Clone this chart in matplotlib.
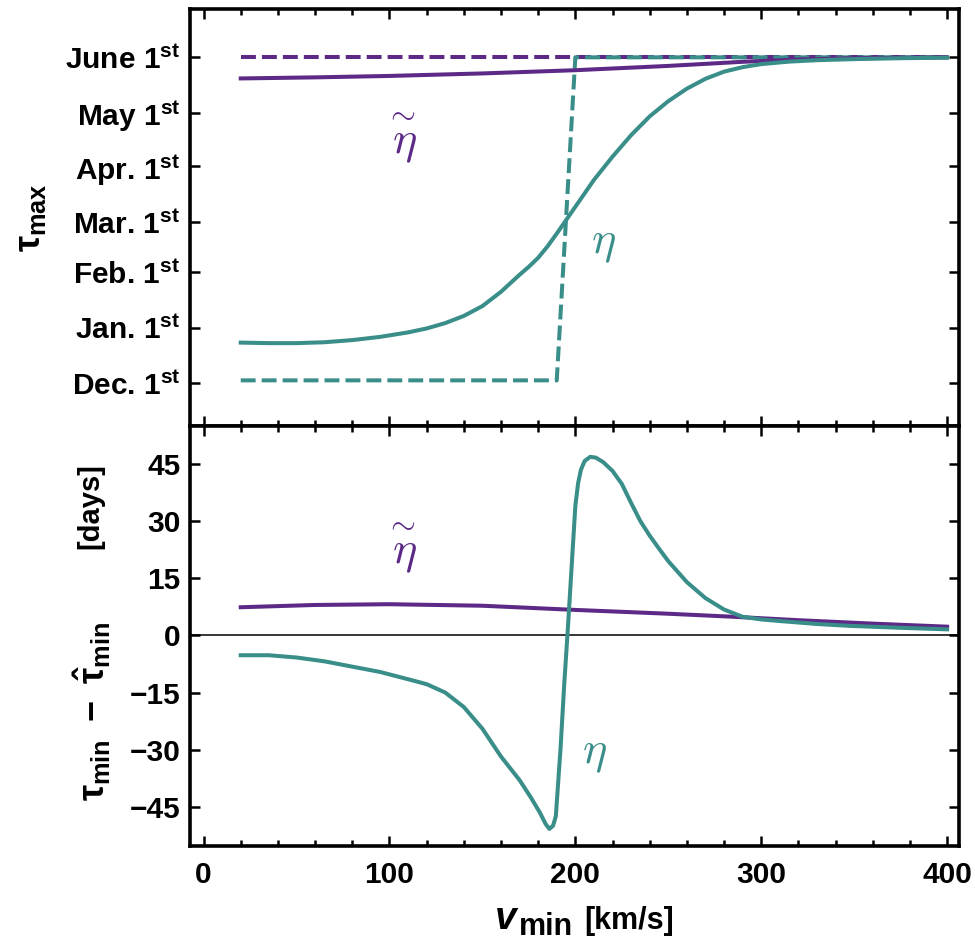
#!/usr/bin/env python3
# coding: utf-8

import matplotlib
matplotlib.use('Agg')
from matplotlib import pyplot as plt
from matplotlib.ticker import MultipleLocator, FixedLocator


PURPLE = '#5c2a86'
TEAL = '#3a8e8a'

W, H = 975, 941

# tau_max, days counted from Dec. 1st
MONTH_DAYS = [0, 31, 62, 90, 121, 151, 182]
MONTH_NAMES = ['Dec.', 'Jan.', 'Feb.', 'Mar.', 'Apr.', 'May', 'June']

v_eta_max = [20, 35, 50, 65, 80, 95, 110, 120, 130, 140, 150, 160, 170, 175, 180, 185, 190, 200,
             210, 220, 230, 240, 250, 260, 270, 280, 290, 300, 315, 330, 350, 375, 400]
eta_max = [22.6, 22.3, 22.3, 22.8, 24.0, 25.8, 28.3, 30.5, 33.5, 37.5, 43.0, 51.0, 60.5, 65.0,
           70.0, 76.3, 83.5, 98.5, 113.5, 126.5, 138.5, 149.0, 157.5, 164.5, 170.0, 174.0, 176.5,
           178.2, 179.6, 180.4, 181.0, 181.5, 181.8]

v_eta_max_step = [20, 190, 200, 400]
eta_max_step = [1.5, 1.5, 182, 182]

v_etat_max = [20, 60, 100, 150, 200, 250, 290, 320, 350, 400]
etat_max = [170.2, 170.8, 171.6, 173.0, 174.8, 177.2, 179.5, 180.8, 181.5, 182.0]

v_etat_max_step = [20, 400]
etat_max_step = [182, 182]

# tau_min - tau_min_hat in days
v_eta_diff = [20, 35, 50, 65, 80, 95, 110, 120, 130, 140, 150, 160, 170, 176, 181, 184, 186, 188,
              189.5, 192, 194, 196, 198, 200, 201.5, 203, 205, 208, 211, 215, 220, 225, 230, 235,
              240, 245, 250, 260, 270, 280, 290, 300, 312, 330, 348, 375, 400]
eta_diff = [-5.2, -5.2, -5.8, -6.8, -8.2, -9.6, -11.5, -12.8, -15.0, -18.8, -24.5, -31.8, -38.0,
            -42.5, -46.6, -49.5, -50.8, -50.0, -47.5, -30.0, -13.0, 2.0, 18.0, 34.0, 40.0, 43.5,
            45.8, 46.9, 46.7, 45.5, 43.2, 39.8, 34.8, 30.0, 26.2, 22.8, 19.5, 14.0, 9.8, 6.8, 4.9,
            4.2, 3.7, 3.0, 2.5, 2.0, 1.6]

v_etat_diff = [20, 60, 100, 150, 200, 250, 285, 320, 360, 400]
etat_diff = [7.4, 8.0, 8.2, 7.8, 6.7, 5.7, 4.9, 4.0, 3.1, 2.3]

DIFF_TICKS = [-45, -30, -15, 0, 15, 30, 45]

plt.rcParams.update({
    'font.family': 'Liberation Sans',
    'font.weight': 'bold',
    'mathtext.fontset': 'custom',
    'mathtext.rm': 'Liberation Sans:bold',
    'mathtext.it': 'Liberation Sans:bold',
    'mathtext.bf': 'Liberation Sans:bold',
    'mathtext.bfit': 'Liberation Sans:italic:bold',
    'mathtext.sf': 'Liberation Sans:bold',
    'axes.linewidth': 2.6,
})

LW = 2.9
DASH = (0, (3.7, 1.5))


def px(x, y):
    # pixel position -> figure fraction
    return x / W, 1 - y / H


def style_axis(ax):
    ax.tick_params(which='both', direction='in', top=True, right=True,
                   labelsize=21.5, pad=7, width=1.8)
    ax.tick_params(which='major', length=7)
    ax.tick_params(which='minor', length=4)
    ax.set_xlim(-7.3, 406.4)
    ax.xaxis.set_major_locator(MultipleLocator(100))
    ax.xaxis.set_minor_locator(MultipleLocator(20))


def eta_label(ax, x, y, tilde=False):
    color = PURPLE if tilde else TEAL
    s = r'$\overset{\sim}{\eta}$' if tilde else r'$\eta$'
    ax.text(x, y, s, color=color, fontsize=33, fontweight='normal',
            ha='center', va='center', math_fontfamily='cm')


fig = plt.figure(figsize=(W / 100, H / 100), dpi=100)
ax_top = fig.add_axes([190 / W, 1 - 426 / H, 769 / W, 417 / H])
ax_bot = fig.add_axes([190 / W, 1 - 846 / H, 769 / W, 420 / H], sharex=ax_top)

# upper panel: tau_max
ax_top.plot(v_etat_max_step, etat_max_step, color=PURPLE, lw=LW, linestyle=DASH)
ax_top.plot(v_eta_max_step, eta_max_step, color=TEAL, lw=LW, linestyle=DASH)
ax_top.plot(v_etat_max, etat_max, color=PURPLE, lw=LW)
ax_top.plot(v_eta_max, eta_max, color=TEAL, lw=LW)
style_axis(ax_top)
ax_top.set_ylim(-24, 209)
ax_top.yaxis.set_major_locator(FixedLocator(MONTH_DAYS))
ax_top.set_yticklabels([name + r' 1$^{\mathbf{st}}$' for name in MONTH_NAMES])
ax_top.tick_params(labelbottom=False)
eta_label(ax_top, 106, 137, tilde=True)
eta_label(ax_top, 215, 78)

# lower panel: tau_min - tau_min_hat
ax_bot.axhline(0, color='black', lw=1.1)
ax_bot.plot(v_etat_diff, etat_diff, color=PURPLE, lw=LW)
ax_bot.plot(v_eta_diff, eta_diff, color=TEAL, lw=LW)
style_axis(ax_bot)
ax_bot.set_ylim(-55.3, 55)
ax_bot.yaxis.set_major_locator(FixedLocator(DIFF_TICKS))
ax_bot.set_yticklabels([str(t).replace('-', '\u2212') for t in DIFF_TICKS])
ax_bot.tick_params(axis='x', pad=11)
eta_label(ax_bot, 106, 23, tilde=True)
eta_label(ax_bot, 210.5, -30.8)

# axis titles
fig.text(*px(30, 218), r'$\tau_{max}$', fontsize=26, rotation=90, ha='center', va='center')
fig.text(*px(92, 711), r'$\tau_{min}\ -\ \hat{\tau}_{min}$', fontsize=26, rotation=90,
         ha='center', va='center')
fig.text(*px(90, 506), '[days]', fontsize=21, rotation=90, ha='center', va='center')
fig.text(*px(517, 929), 'v', fontsize=28, style='italic', ha='right', va='baseline')
fig.text(*px(519, 935), 'min', fontsize=22, ha='left', va='baseline')
fig.text(*px(584, 929), '[km/s]', fontsize=22, ha='left', va='baseline')

fig.savefig('out.png', dpi=100)
